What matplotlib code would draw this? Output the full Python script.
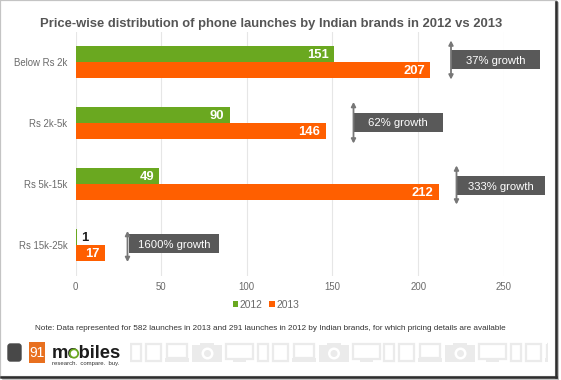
#!/usr/bin/env python3
# plot.py
"""Price-wise distribution of phone launches, 2012 vs 2013."""
import matplotlib
matplotlib.use("Agg")
import matplotlib.pyplot as plt
from matplotlib.patches import Rectangle, FancyBboxPatch, Circle

W, H = 561, 380

categories = ["Below Rs 2k", "Rs 2k-5k", "Rs 5k-15k", "Rs 15k-25k"]
launches_2012 = [151, 90, 49, 1]
launches_2013 = [207, 146, 212, 17]
x_ticks = [0, 50, 100, 150, 200, 250]
growth_labels = ["37% growth", "62% growth", "333% growth", "1600% growth"]

TITLE = "Price-wise distribution of phone launches by Indian brands in 2012 vs 2013"
NOTE = ("Note: Data represented for 582 launches in 2013 and 291 launches in 2012 "
        "by Indian brands, for which pricing details are available")

GREEN = "#6aa820"
ORANGE = "#ff5f00"
GREY_BOX = "#595959"
ICON = "#ebebeb"

plt.rcParams["font.family"] = ["Liberation Sans", "DejaVu Sans"]


def ax_rect(left, top, right, bottom):
    """Pixel box to figure fractions."""
    return [left / W, 1 - bottom / H, (right - left) / W, (bottom - top) / H]


def draw_frame(bg):
    """Thin light edge top/left, dark shadow right/bottom."""
    bg.add_patch(Rectangle((0, 0), 556, 377, fc="white", ec="#c4c4c4", lw=1.6, zorder=1))
    bg.plot([556, 556], [2, 377], color="#2e2e2e", lw=1.8, zorder=2)
    bg.plot([1, 556], [377, 377], color="#2e2e2e", lw=1.8, zorder=2)
    bg.plot([558, 558], [3, 379], color="#b5b5b5", lw=1.2, zorder=1)
    bg.plot([3, 558], [379, 379], color="#b5b5b5", lw=1.2, zorder=1)


def draw_callout(fg, text, left, right, top, bottom, arrow_x, arrow_top, arrow_bottom):
    fg.add_patch(Rectangle((left, top), right - left, bottom - top, fc=GREY_BOX, ec="none"))
    fg.text((left + right) / 2, (top + bottom) / 2 + 1.5, text, color="white", fontsize=8.1,
            ha="center", va="center")
    fg.annotate("", xy=(arrow_x, arrow_top), xytext=(arrow_x, arrow_bottom),
                arrowprops=dict(arrowstyle="<|-|>,head_width=0.13,head_length=0.25",
                                color="#777777", lw=1.3, shrinkA=0, shrinkB=0))


def draw_icons(fg):
    """Row of pale device pictograms next to the logo."""
    clip = Rectangle((130, 340), 418.5, 24, transform=fg.transData)
    parts = []
    for start in (130.5, 257, 383.5, 510):
        parts.append(Rectangle((start + 1, 343.5), 10, 17.5, fc="none", ec=ICON, lw=1.6))
        parts.append(Rectangle((start + 16, 343.5), 15, 17.5, fc="none", ec=ICON, lw=1.6))
        parts.append(Rectangle((start + 37, 343.5), 20, 14, fc="none", ec=ICON, lw=1.6))
        parts.append(Rectangle((start + 35, 358), 24, 3.5, fc=ICON, ec="none"))
        parts.append(Rectangle((start + 62, 345), 30, 17, fc=ICON, ec="none"))
        parts.append(Rectangle((start + 70, 342.5), 14, 3, fc=ICON, ec="none"))
        parts.append(Circle((start + 77, 353.5), 6, fc="white", ec="none"))
        parts.append(Circle((start + 77, 353.5), 3.5, fc=ICON, ec="none"))
        parts.append(Rectangle((start + 96, 343.5), 27, 15, fc="none", ec=ICON, lw=1.6))
        parts.append(Rectangle((start + 103, 360), 13, 1.8, fc=ICON, ec="none"))
    for part in parts:
        fg.add_patch(part)
        part.set_clip_path(clip)


def draw_logo(fg):
    fg.add_patch(FancyBboxPatch((8, 344), 13, 17, boxstyle="round,pad=0,rounding_size=2.5",
                                fc="#484848", ec="#484848", lw=1))
    fg.add_patch(Rectangle((29, 342), 16.5, 20.5, fc="#e8701f", ec="none"))
    fg.text(37.2, 353, "91", color="white", fontsize=10, ha="center", va="center")
    fg.text(52, 358.5, "mobiles", color="#1c1c1c", fontsize=13.2, fontweight="bold",
            ha="left", va="baseline")
    fg.add_patch(Circle((74, 353.5), 4.2, fc="white", ec=GREEN, lw=1.3, zorder=4))
    fg.text(52.5, 364, "research.  compare.  buy.", color="#333333", fontsize=4.3,
            ha="left", va="center")


def main():
    fig = plt.figure(figsize=(W / 100, H / 100), dpi=100, facecolor="white")

    bg = fig.add_axes([0, 0, 1, 1], zorder=0)
    bg.set_xlim(0, W)
    bg.set_ylim(H, 0)
    bg.axis("off")
    draw_frame(bg)

    ax = fig.add_axes(ax_rect(75.5, 31.5, 503.8, 275.5), zorder=1)
    ax.patch.set_alpha(0)
    ypos = list(range(len(categories)))
    bar_h = 16 / 61
    ax.barh([y - bar_h / 2 for y in ypos], launches_2012, height=bar_h, color=GREEN,
            label="2012", zorder=3)
    ax.barh([y + bar_h / 2 for y in ypos], launches_2013, height=bar_h, color=ORANGE,
            label="2013", zorder=3)
    ax.set_xlim(0, 250)
    ax.set_ylim(len(categories) - 0.5, -0.5)
    ax.set_xticks(x_ticks)
    ax.set_yticks(ypos)
    ax.set_yticklabels(categories)
    ax.tick_params(axis="both", length=0, labelsize=6.9, labelcolor="#6a6a6a")
    ax.tick_params(axis="x", pad=5)
    ax.tick_params(axis="y", pad=5.8)
    ax.grid(axis="x", color="#e6e6e6", lw=0.8, zorder=0)
    ax.set_axisbelow(True)
    for side in ax.spines.values():
        side.set_visible(False)

    # value labels sit inside the bar end, except the tiny 2012 bar
    for y, v12, v13 in zip(ypos, launches_2012, launches_2013):
        if v12 > 5:
            ax.annotate(str(v12), (v12, y - bar_h / 2), xytext=(-3.8, -1), textcoords="offset points",
                        color="white", fontsize=9.4, fontweight="bold", ha="right", va="center",
                        zorder=4)
        else:
            ax.annotate(str(v12), (v12, y - bar_h / 2), xytext=(3, -1), textcoords="offset points",
                        color="#1a1a1a", fontsize=9.4, fontweight="bold", ha="left", va="center",
                        zorder=4)
        ax.annotate(str(v13), (v13, y + bar_h / 2), xytext=(-3.8, -1), textcoords="offset points",
                    color="white", fontsize=9.4, fontweight="bold", ha="right", va="center",
                    zorder=4)

    fig.legend(*ax.get_legend_handles_labels(), loc="center", ncol=2, frameon=False,
               bbox_to_anchor=(266 / W, 1 - 304.5 / H), fontsize=7.4, labelcolor="#6a6a6a",
               handlelength=0.5, handleheight=0.5, handletextpad=0.15, columnspacing=0.66)

    fig.text(271 / W, 1 - 24 / H, TITLE, fontsize=9.35, fontweight="bold", color="#555555",
             ha="center", va="center")
    fig.text(270.5 / W, 1 - 328.5 / H, NOTE, fontsize=5.9, color="#333333", ha="center", va="center")

    fg = fig.add_axes([0, 0, 1, 1], zorder=2)
    fg.set_xlim(0, W)
    fg.set_ylim(H, 0)
    fg.axis("off")
    draw_callout(fg, growth_labels[0], 451, 540.5, 50, 69, 451, 40.5, 79.5)
    draw_callout(fg, growth_labels[1], 353.5, 443, 112.5, 131.5, 353.5, 102, 143.5)
    draw_callout(fg, growth_labels[2], 456.5, 545.5, 175.5, 194.5, 456.5, 165.5, 204.5)
    draw_callout(fg, growth_labels[3], 129.5, 219, 234, 253, 127.5, 231, 262)
    draw_icons(fg)
    draw_logo(fg)

    fig.savefig("out.png", dpi=100)


if __name__ == "__main__":
    main()
